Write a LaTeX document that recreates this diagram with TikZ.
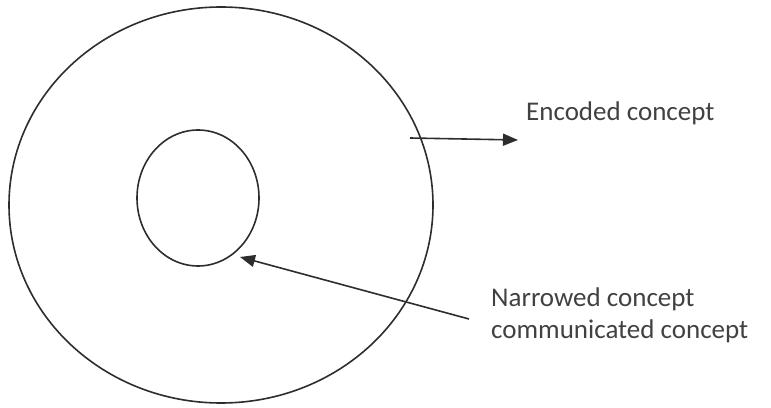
\documentclass[tikz,border=0pt]{standalone}
\usepackage{fontspec}
\setmainfont{Carlito}
\usetikzlibrary{shapes.geometric, arrows.meta}
\definecolor{ink}{RGB}{45, 45, 45}
\definecolor{inktext}{RGB}{65, 65, 65}

\begin{document}
\begin{tikzpicture}[x=1pt, y=1pt,
    ring/.style={ellipse, draw=ink, line width=1.6, inner sep=0},
    label/.style={anchor=west, inner sep=0, text=inktext, align=left,
      font=\fontsize{27}{32}\selectfont},
    pointer/.style={-{Triangle[length=15, width=12]}, draw=ink, line width=1.6}]

  \useasboundingbox (0, 0) rectangle (771, 407);

  \node[ring, minimum width=424, minimum height=396] (outer) at (221, 202) {};
  \node[ring, minimum width=122, minimum height=136] (inner) at (198, 209) {};

  \node[label] (encoded) at (526, 294) {Encoded concept};
  \node[label] (narrowed) at (491, 92) {Narrowed concept\\communicated concept};

  \coordinate (enctail) at (410, 269);
  \coordinate (enchead) at (518, 267);
  \coordinate (nartail) at (469, 88);
  \coordinate (narhead) at (240, 150);

  \draw[pointer] (enctail) -- (enchead);
  \draw[pointer] (nartail) -- (narhead);

\end{tikzpicture}
\end{document}
